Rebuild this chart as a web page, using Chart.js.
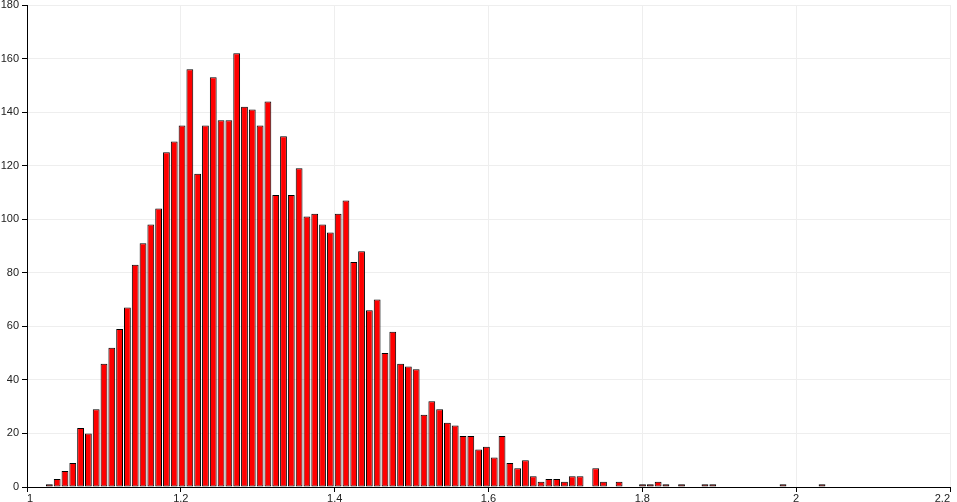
<!DOCTYPE html>
<html>
<head>
<meta charset="utf-8">
<script src="https://cdn.jsdelivr.net/npm/chart.js@4/dist/chart.umd.min.js"></script>
<style>
  html, body { margin: 0; padding: 0; background: #fff; }
  #wrap { width: 957px; height: 502px; position: relative; }
</style>
</head>
<body>
<div id="wrap"><canvas id="histogram"></canvas></div>
<script>
// histogram: 100 equal bins between binMin and binMax
var binMin = 1.024;
var binMax = 2.0387;
var binCounts = [
	1, 3, 6, 9, 22, 20, 29, 46, 52, 59,
	67, 83, 91, 98, 104, 125, 129, 135, 156, 117,
	135, 153, 137, 137, 162, 142, 141, 135, 144, 109,
	131, 109, 119, 101, 102, 98, 95, 102, 107, 84,
	88, 66, 70, 50, 58, 46, 45, 44, 27, 32,
	29, 24, 23, 19, 19, 14, 15, 11, 19, 9,
	7, 10, 4, 2, 3, 3, 2, 4, 4, 0,
	7, 2, 0, 2, 0, 0, 1, 1, 2, 1,
	0, 1, 0, 0, 1, 1, 0, 0, 0, 0,
	0, 0, 0, 0, 1, 0, 0, 0, 0, 1
];
var xTicks = [1, 1.2, 1.4, 1.6, 1.8, 2, 2.2];
var yTicks = [0, 20, 40, 60, 80, 100, 120, 140, 160, 180];

var binWidth = (binMax - binMin) / binCounts.length;
var histData = [];
for (var i = 0; i < binCounts.length; i++) {
	histData.push({ x: binMin + (i + 0.5) * binWidth, y: binCounts[i] });
}

Chart.defaults.font.family = "'Liberation Sans', Arial, sans-serif";
Chart.defaults.font.size = 11;
Chart.defaults.color = '#222';

const histogram = document.getElementById('histogram');
var HistogramChart = new Chart(histogram, {
	type: 'bar',
	data: {
		datasets: [{
			data: histData,
			backgroundColor: '#ff0000',
			borderColor: '#000000',
			borderWidth: 1,
			borderSkipped: false,
			categoryPercentage: 1,
			barPercentage: 0.87
		}]
	},
	options: {
		responsive: true,
		maintainAspectRatio: false,
		animation: false,
		layout: {
			padding: { top: 5, right: 7, left: 0, bottom: 0 }
		},
		scales: {
			x: {
				type: 'linear',
				offset: false,
				min: xTicks[0],
				max: xTicks[xTicks.length - 1],
				afterBuildTicks: function (scale) {
					scale.ticks = xTicks.map(function (v) { return { value: v }; });
				},
				afterFit: function (scale) {
					scale.height = 15;
					scale.paddingLeft = 0;
					scale.paddingRight = 0;
				},
				grid: {
					offset: false,
					color: '#eeeeee',
					tickColor: '#000000',
					tickLength: 5
				},
				border: { color: '#000000', width: 1 },
				ticks: {
					align: 'inner',
					padding: 0,
					maxRotation: 0,
					autoSkip: false,
					callback: function (value) { return String(value); }
				}
			},
			y: {
				min: yTicks[0],
				max: yTicks[yTicks.length - 1],
				afterBuildTicks: function (scale) {
					scale.ticks = yTicks.map(function (v) { return { value: v }; });
				},
				afterFit: function (scale) {
					scale.width = 27;
					scale.paddingTop = 0;
					scale.paddingBottom = 0;
				},
				grid: {
					color: '#eeeeee',
					tickColor: '#000000',
					tickLength: 5
				},
				border: { color: '#000000', width: 1 },
				ticks: {
					padding: 3
				}
			}
		},
		plugins: {
			legend: { display: false },
			tooltip: { enabled: false },
			title: { display: false }
		}
	}
});
</script>
</body>
</html>
